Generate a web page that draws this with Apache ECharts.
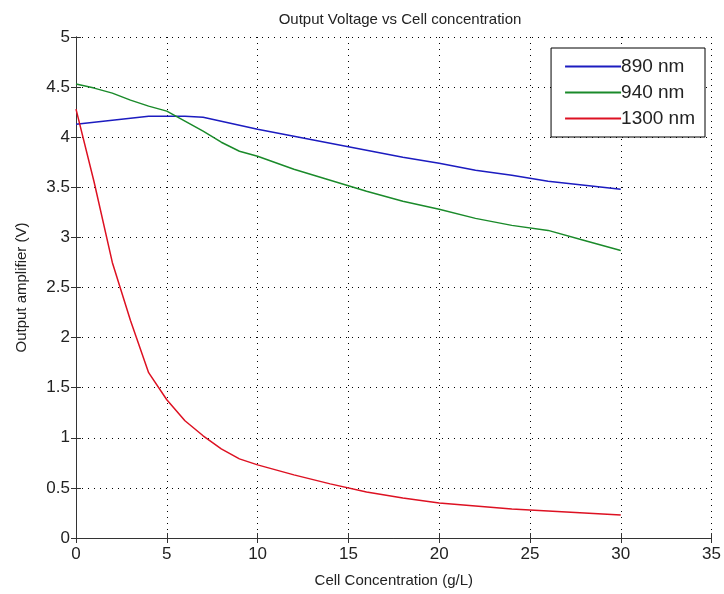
<!DOCTYPE html>
<html>
<head>
<meta charset="utf-8">
<script src="https://cdn.jsdelivr.net/npm/echarts@6/dist/echarts.min.js"></script>
<style>
  html, body { margin: 0; padding: 0; background: #fff; }
  #chart { width: 724px; height: 594px; }
</style>
</head>
<body>
<div id="chart"></div>
<script>
// concentration (g/L)
var conc = [0, 1, 2, 3, 4, 5, 6, 7, 8, 9, 10, 12, 14, 16, 18, 20, 22, 24, 26, 28, 30];
var v890 = [4.13, 4.15, 4.17, 4.19, 4.21, 4.21, 4.21, 4.20, 4.16, 4.12, 4.08, 4.01, 3.94, 3.87, 3.80, 3.74, 3.67, 3.62, 3.56, 3.52, 3.48];
var v940 = [4.53, 4.49, 4.44, 4.37, 4.31, 4.26, 4.16, 4.06, 3.95, 3.86, 3.81, 3.68, 3.57, 3.46, 3.36, 3.28, 3.19, 3.12, 3.07, 2.97, 2.87];
var v1300 = [4.28, 3.55, 2.75, 2.17, 1.65, 1.38, 1.17, 1.02, 0.89, 0.79, 0.73, 0.63, 0.54, 0.46, 0.40, 0.35, 0.32, 0.29, 0.27, 0.25, 0.23];
var seriesNames = ['890 nm', '940 nm', '1300 nm'];
var seriesColors = ['#1c1cc0', '#1a8a2a', '#dd1122'];

function pairs(xs, ys) {
    var out = [];
    for (var i = 0; i < xs.length; i++) {
        out.push([xs[i], ys[i]]);
    }
    return out;
}

var font = 'Liberation Sans, Arial, sans-serif';
var axisLine = {lineStyle: {color: '#333', width: 1}};
var tick = {inside: true, length: 5, lineStyle: {color: '#333'}};
var grid_line = {show: true, lineStyle: {color: '#000', type: [1, 5], width: 1}};

var chart = echarts.init(document.getElementById('chart'));
var option = {
    animation: false,
    textStyle: {fontFamily: font},
    title: {
        text: 'Output Voltage vs Cell concentration',
        left: 395,
        textAlign: 'center',
        top: 7,
        textStyle: {fontSize: 15, fontWeight: 'normal', color: '#222', fontFamily: font}
    },
    legend: {
        data: seriesNames,
        orient: 'vertical',
        right: 19,
        top: 48,
        itemWidth: 56,
        itemHeight: 2,
        itemGap: 7,
        padding: [9, 10, 9, 14],
        backgroundColor: '#fff',
        borderColor: '#000',
        borderWidth: 1,
        icon: 'rect',
        textStyle: {fontSize: 19, color: '#222', padding: [0, 0, 0, -5]}
    },
    grid: {left: 76, right: 9, top: 37, bottom: 56},
    xAxis: [{
        type: 'value',
        min: 0, max: 35, interval: 5,
        name: 'Cell Concentration (g/L)',
        nameLocation: 'middle',
        nameGap: 35,
        nameTextStyle: {fontSize: 15, color: '#222'},
        axisLine: axisLine,
        axisTick: tick,
        axisLabel: {fontSize: 17, color: '#222', margin: 8},
        splitLine: grid_line
    }, {
        type: 'value',
        position: 'top',
        min: 0, max: 35, interval: 5,
        axisLine: axisLine,
        axisTick: tick,
        axisLabel: {show: false},
        splitLine: {show: false}
    }],
    yAxis: [{
        type: 'value',
        min: 0, max: 5, interval: 0.5,
        name: 'Output amplifier (V)',
        nameLocation: 'middle',
        nameGap: 47,
        nameTextStyle: {fontSize: 15, color: '#222'},
        axisLine: axisLine,
        axisTick: tick,
        axisLabel: {fontSize: 17, color: '#222', margin: 6},
        splitLine: grid_line
    }, {
        type: 'value',
        position: 'right',
        min: 0, max: 5, interval: 0.5,
        axisLine: axisLine,
        axisTick: tick,
        axisLabel: {show: false},
        splitLine: {show: false}
    }],
    series: [{
        name: seriesNames[0],
        type: 'line',
        color: seriesColors[0],
        showSymbol: false,
        lineStyle: {width: 1.5},
        data: pairs(conc, v890)
    }, {
        name: seriesNames[1],
        type: 'line',
        color: seriesColors[1],
        showSymbol: false,
        lineStyle: {width: 1.5},
        data: pairs(conc, v940)
    }, {
        name: seriesNames[2],
        type: 'line',
        color: seriesColors[2],
        showSymbol: false,
        lineStyle: {width: 1.5},
        data: pairs(conc, v1300)
    }]
};
chart.setOption(option);
</script>
</body>
</html>
